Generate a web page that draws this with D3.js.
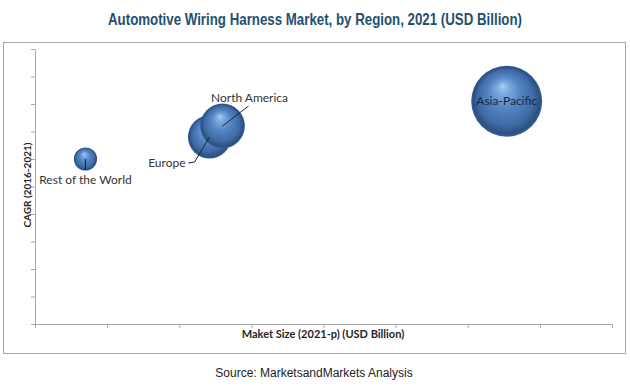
<!DOCTYPE html>
<html>
<head>
<meta charset="utf-8">
<script src="https://cdn.jsdelivr.net/npm/d3@7"></script>
<style>
  body { margin: 0; background: #fff; }
  svg { display: block; }
</style>
</head>
<body>
<div id="chart"></div>
<script>
// data
var regions = ["Rest of the World", "Europe", "North America", "Asia-Pacific"];
var market_size = [3.5, 12.1, 13.0, 32.7];   // x, also bubble size
var cagr = [6.0, 6.8, 7.2, 8.1];             // y

var W = 630, H = 389;
var margin = {top: 49, right: 18, bottom: 65, left: 35},
    width = W - margin.left - margin.right,
    height = H - margin.top - margin.bottom;

var svg = d3.select("#chart").append("svg")
    .attr("width", W)
    .attr("height", H);

// bubble shading
var defs = svg.append("defs");
var grad = defs.append("radialGradient")
    .attr("id", "ball")
    .attr("cx", "50%").attr("cy", "50%").attr("r", "50%")
    .attr("fx", "44%").attr("fy", "28%");
grad.append("stop").attr("offset", "0%").attr("stop-color", "#acd0f7");
grad.append("stop").attr("offset", "16%").attr("stop-color", "#80abe3");
grad.append("stop").attr("offset", "45%").attr("stop-color", "#5585c4");
grad.append("stop").attr("offset", "78%").attr("stop-color", "#3f6ba6");
grad.append("stop").attr("offset", "94%").attr("stop-color", "#2c4f80");
grad.append("stop").attr("offset", "100%").attr("stop-color", "#3a64a0");

// title
svg.append("text")
    .attr("x", W / 2)
    .attr("y", 25)
    .attr("text-anchor", "middle")
    .attr("font-family", "Liberation Sans, Arial, sans-serif")
    .attr("font-weight", "bold")
    .attr("font-size", "16px")
    .attr("textLength", 414)
    .attr("lengthAdjust", "spacingAndGlyphs")
    .attr("fill", "#1f5070")
    .text("Automotive Wiring Harness Market, by Region, 2021 (USD Billion)");

// frame
svg.append("rect")
    .attr("x", 3.5).attr("y", 42.5)
    .attr("width", 622).attr("height", 311)
    .attr("fill", "none")
    .attr("stroke", "#a6a6a6")
    .attr("stroke-width", 1);

var g = svg.append("g")
    .attr("transform", "translate(" + margin.left + "," + margin.top + ")");

var x = d3.scaleLinear().domain([0, 40]).range([0, 577]);
var y = d3.scaleLinear().domain([0, 10]).range([275, 0]);
var r = d3.scaleSqrt().domain([0, d3.max(market_size)]).range([0, 35.5]);

// axes
g.append("g")
    .attr("transform", "translate(0," + y(0) + ")")
    .call(d3.axisBottom(x).ticks(8).tickSize(4).tickSizeOuter(0).tickFormat(""))
    .call(a => a.selectAll("line,path").attr("stroke", "#a6a6a6"));

g.append("g")
    .call(d3.axisLeft(y).ticks(10).tickSize(4).tickSizeOuter(0).tickFormat(""))
    .call(a => a.selectAll("line,path").attr("stroke", "#a6a6a6"));

// axis titles
svg.append("text")
    .attr("x", 323)
    .attr("y", 338)
    .attr("text-anchor", "middle")
    .attr("font-family", "Lato, sans-serif")
    .attr("font-weight", "bold")
    .attr("font-size", "11px")
    .attr("fill", "#262626")
    .text("Maket Size (2021-p) (USD Billion)");

svg.append("text")
    .attr("transform", "translate(31,185) rotate(-90)")
    .attr("text-anchor", "middle")
    .attr("font-family", "Lato, sans-serif")
    .attr("font-weight", "bold")
    .attr("font-size", "10px")
    .attr("fill", "#262626")
    .text("CAGR (2016-2021)");

// source
svg.append("text")
    .attr("x", 314)
    .attr("y", 377)
    .attr("text-anchor", "middle")
    .attr("font-family", "Liberation Sans, Arial, sans-serif")
    .attr("font-size", "12px")
    .attr("fill", "#222")
    .text("Source: MarketsandMarkets Analysis");

var data = regions.map(function(d, i) {
    return {name: d, size: market_size[i], cagr: cagr[i]};
});

// bubbles
g.selectAll(".bubble")
    .data(data)
    .enter()
    .append("circle")
    .attr("class", "bubble")
    .attr("cx", d => x(d.size))
    .attr("cy", d => y(d.cagr))
    .attr("r", d => r(d.size))
    .attr("fill", "url(#ball)");

var lblFont = "Lato, Carlito, sans-serif";

function px(i) { return x(market_size[i]); }
function py(i) { return y(cagr[i]); }

// Rest of the World: label below, short leader
g.append("line")
    .attr("x1", px(0)).attr("y1", py(0))
    .attr("x2", px(0)).attr("y2", py(0) + 11)
    .attr("stroke", "#222");
g.append("text")
    .attr("x", px(0)).attr("y", py(0) + 25)
    .attr("text-anchor", "middle")
    .attr("font-family", lblFont).attr("font-size", "12px").attr("fill", "#333")
    .text(regions[0]);

// Europe: label lower left with leader
g.append("polyline")
    .attr("points", [[px(1) - 21, py(1) + 26], [px(1) - 15, py(1) + 25], [px(1), py(1)]].join(" "))
    .attr("fill", "none")
    .attr("stroke", "#222");
g.append("text")
    .attr("x", px(1) - 24).attr("y", py(1) + 30)
    .attr("text-anchor", "end")
    .attr("font-family", lblFont).attr("font-size", "12px").attr("fill", "#333")
    .text(regions[1]);

// North America: label above right with leader
g.append("line")
    .attr("x1", px(2)).attr("y1", py(2))
    .attr("x2", px(2) + 26).attr("y2", py(2) - 20)
    .attr("stroke", "#222");
g.append("text")
    .attr("x", px(2) + 27).attr("y", py(2) - 24)
    .attr("text-anchor", "middle")
    .attr("font-family", lblFont).attr("font-size", "12px").attr("fill", "#333")
    .text(regions[2]);

// Asia-Pacific: label centered on bubble
g.append("text")
    .attr("x", px(3)).attr("y", py(3) + 4)
    .attr("text-anchor", "middle")
    .attr("font-family", lblFont).attr("font-size", "12px").attr("fill", "#142840")
    .text(regions[3]);
</script>
</body>
</html>
